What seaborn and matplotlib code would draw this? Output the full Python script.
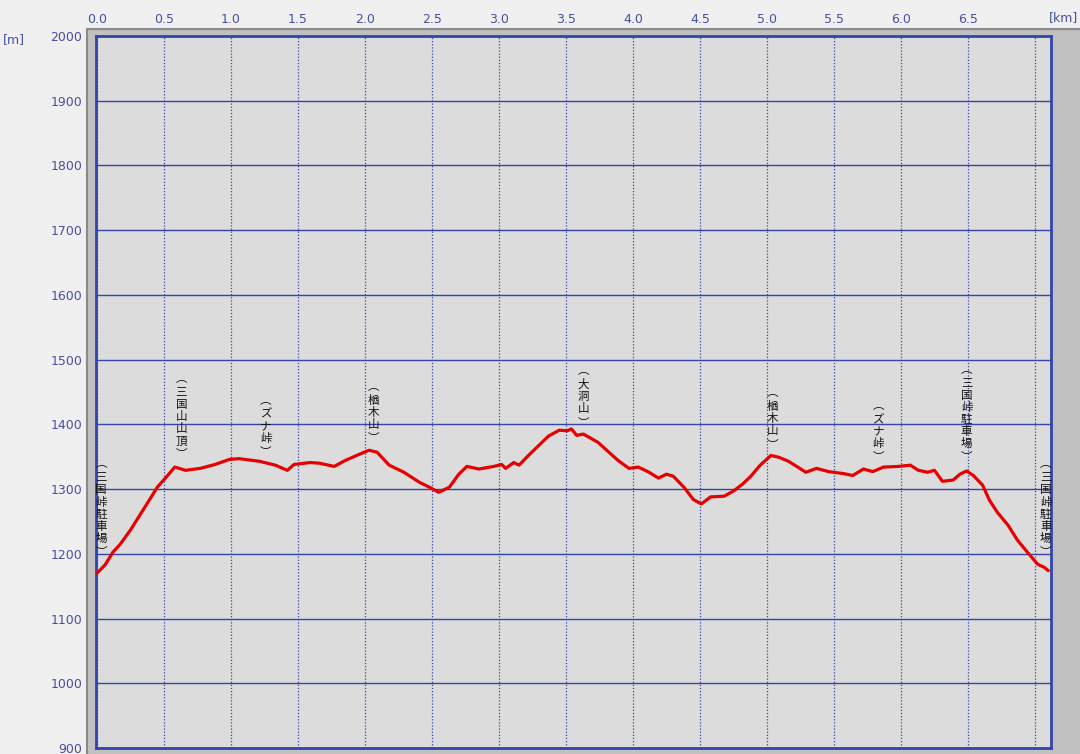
import matplotlib
matplotlib.use("Agg")
import matplotlib.pyplot as plt
import seaborn as sns
import pandas as pd
from matplotlib.patches import Rectangle

# elevation profile (distance in km, elevation in m)
dist_km = [0.00, 0.06, 0.12, 0.17, 0.25, 0.32, 0.39, 0.45, 0.51, 0.58, 0.66, 0.77,
           0.88, 0.99, 1.06, 1.21, 1.33, 1.42, 1.47, 1.59, 1.66, 1.77, 1.85, 1.96,
           2.03, 2.09, 2.18, 2.29, 2.41, 2.48, 2.55, 2.63, 2.70, 2.76, 2.85, 2.96,
           3.02, 3.05, 3.11, 3.15, 3.22, 3.30, 3.37, 3.45, 3.51, 3.54, 3.58, 3.63,
           3.74, 3.82, 3.89, 3.97, 4.04, 4.12, 4.19, 4.25, 4.30, 4.38, 4.45, 4.51,
           4.58, 4.68, 4.75, 4.82, 4.88, 4.95, 5.03, 5.09, 5.16, 5.23, 5.29, 5.37,
           5.46, 5.57, 5.64, 5.72, 5.79, 5.87, 5.98, 6.07, 6.13, 6.20, 6.25, 6.31,
           6.39, 6.44, 6.49, 6.54, 6.61, 6.66, 6.72, 6.80, 6.87, 6.95, 7.02, 7.07, 7.10]
elev_m = [1170, 1183, 1203, 1214, 1237, 1260, 1283, 1303, 1317, 1334, 1329, 1332,
          1338, 1346, 1347, 1343, 1337, 1329, 1338, 1341, 1340, 1335, 1344, 1354,
          1360, 1357, 1337, 1326, 1310, 1303, 1295, 1303, 1323, 1335, 1331, 1335,
          1338, 1332, 1341, 1337, 1352, 1368, 1382, 1391, 1390, 1393, 1383, 1385,
          1372, 1357, 1344, 1332, 1334, 1326, 1317, 1323, 1320, 1303, 1284, 1277,
          1288, 1289, 1297, 1308, 1320, 1337, 1352, 1349, 1343, 1334, 1326, 1332,
          1327, 1324, 1321, 1331, 1327, 1334, 1335, 1337, 1329, 1326, 1329, 1312,
          1314, 1323, 1328, 1321, 1306, 1283, 1264, 1244, 1221, 1201, 1184, 1179, 1174]

# waypoint labels
wp_names = ["三国峠駐車場", "三国山山頂", "ズナ峠", "楢木山", "大洞山",
            "楢木山", "ズナ峠", "三国峠駐車場", "三国峠駐車場"]
wp_km = [0.03, 0.63, 1.26, 2.06, 3.63, 5.04, 5.83, 6.49, 7.08]
wp_top = [1346, 1478, 1444, 1466, 1490, 1456, 1436, 1492, 1346]

x_ticks = [0.0, 0.5, 1.0, 1.5, 2.0, 2.5, 3.0, 3.5, 4.0, 4.5, 5.0, 5.5, 6.0, 6.5]
x_grid = x_ticks + [7.0]
y_ticks = list(range(900, 2001, 100))

sns.set_style("white")
plt.rcParams["font.family"] = ["DejaVu Sans", "Noto Sans CJK JP"]

blue = "#3344aa"
txt_blue = "#4650a0"
cjk = ["Noto Sans CJK JP", "DejaVu Sans"]

df = pd.DataFrame({"km": dist_km, "m": elev_m})

fig = plt.figure(figsize=(10.8, 7.54), dpi=100, facecolor="#f0f0f0")
W, H = 1080, 754
# gray frame around the plot
frame = Rectangle((87 / W, -0.01), 1.01 - 87 / W, 1.01 - 29 / H, transform=fig.transFigure,
                  facecolor="#c0c0c0", edgecolor="#8a8a8a", linewidth=1.5, zorder=-5)
fig.patches.append(frame)

ax = fig.add_axes([96 / W, 1 - 748 / H, (1051 - 96) / W, (748 - 36) / H])
ax.set_zorder(2)
ax.set_facecolor("#dcdcdc")

for v in x_grid:
    ax.axvline(v, color=blue, linestyle=(0, (1, 1.5)), linewidth=0.9, zorder=1)
for v in y_ticks:
    ax.axhline(v, color=blue, linewidth=1, zorder=1)

sns.lineplot(data=df, x="km", y="m", ax=ax, color="#e60000", linewidth=2.3, zorder=3)

# vertical labels: one character per row, brackets as vertical forms
step = 8.7  # points between rows
for name, xk, yt in zip(wp_names, wp_km, wp_top):
    rows = ["︵"] + list(name) + ["︶"]
    for i, ch in enumerate(rows):
        dy = -i * step
        if ch == "︵":
            dy += 1.5
        elif ch == "︶":
            dy -= 1.5
        ax.annotate(ch, xy=(xk, yt), xytext=(0, dy), textcoords="offset points",
                    ha="center", va="top", fontsize=8.3, family=cjk,
                    color="#111111", zorder=4)

ax.set_xlim(-0.008, 7.12)
ax.set_ylim(900, 2000)
ax.xaxis.tick_top()
ax.set_xticks(x_ticks)
ax.set_xticklabels([f"{v:.1f}" for v in x_ticks])
ax.set_yticks(y_ticks)
ax.set_yticklabels([str(v) for v in y_ticks])
ax.tick_params(axis="x", length=0, pad=7, labelsize=9, labelcolor=txt_blue)
ax.tick_params(axis="y", length=0, pad=10, labelsize=9, labelcolor=txt_blue)
ax.set_xlabel("")
ax.set_ylabel("")
for sp in ax.spines.values():
    sp.set_color(blue)
    sp.set_linewidth(2)

fig.text(3 / W, 1 - 40 / H, "[m]", fontsize=9, color=txt_blue, va="center", ha="left")
fig.text(1078 / W, 1 - 18 / H, "[km]", fontsize=9, color=txt_blue, va="center", ha="right")

fig.savefig("out.png", dpi=100, facecolor=fig.get_facecolor())
